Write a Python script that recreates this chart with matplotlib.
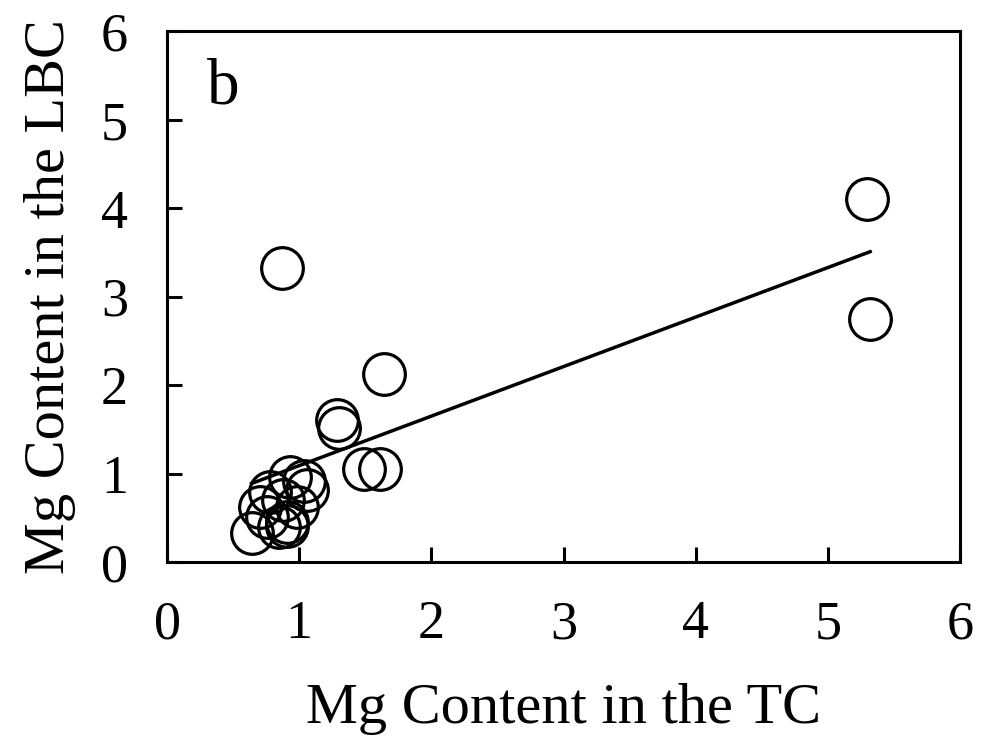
import matplotlib
matplotlib.use("Agg")
import matplotlib.pyplot as plt
import numpy as np

# Mg content: TC (x) versus LBC (y)
mg_tc = [5.30, 5.32, 0.87, 1.64, 1.29, 1.30, 1.49, 1.61,
         0.64, 0.70, 0.78, 0.76, 0.85, 0.91, 0.93, 0.91,
         1.04, 1.06, 0.98, 0.88]
mg_lbc = [4.10, 2.75, 3.33, 2.13, 1.61, 1.52, 1.05, 1.05,
          0.33, 0.62, 0.79, 0.51, 0.40, 0.41, 0.96, 0.45,
          0.92, 0.81, 0.62, 0.70]

# Linear trend line
trend_slope = 0.56
trend_intercept = 0.53

x_ticks = [0, 1, 2, 3, 4, 5, 6]
y_ticks = [0, 1, 2, 3, 4, 5, 6]

plt.rcParams['font.family'] = ['Liberation Serif', 'DejaVu Serif']

fig = plt.figure(figsize=(10, 7.4), dpi=100)
ax = fig.add_axes([0.167, 0.2405, 0.793, 0.717])

ax.plot(mg_tc, mg_lbc, linestyle='none', marker='o', markersize=30,
        markerfacecolor='none', markeredgecolor='black', markeredgewidth=2.3)

xs = np.array([min(mg_tc), max(mg_tc)])
ax.plot(xs, trend_slope * xs + trend_intercept, color='black', linewidth=2.5)

ax.set_xlim(0, 6)
ax.set_ylim(0, 6)
ax.set_xticks(x_ticks)
ax.set_yticks(y_ticks)
ax.tick_params(direction='in', length=11, width=2.2, labelsize=39,
               top=False, right=False)
ax.tick_params(axis='x', pad=27)
ax.tick_params(axis='y', pad=28)
for s in ax.spines.values():
    s.set_linewidth(2.2)

ax.set_xlabel('Mg Content in the TC', fontsize=42, labelpad=24)
ax.set_ylabel('Mg Content in the LBC', fontsize=42, labelpad=18)
ax.text(0.051, 0.865, 'b', transform=ax.transAxes, fontsize=47)

fig.savefig('out.png', dpi=100)
